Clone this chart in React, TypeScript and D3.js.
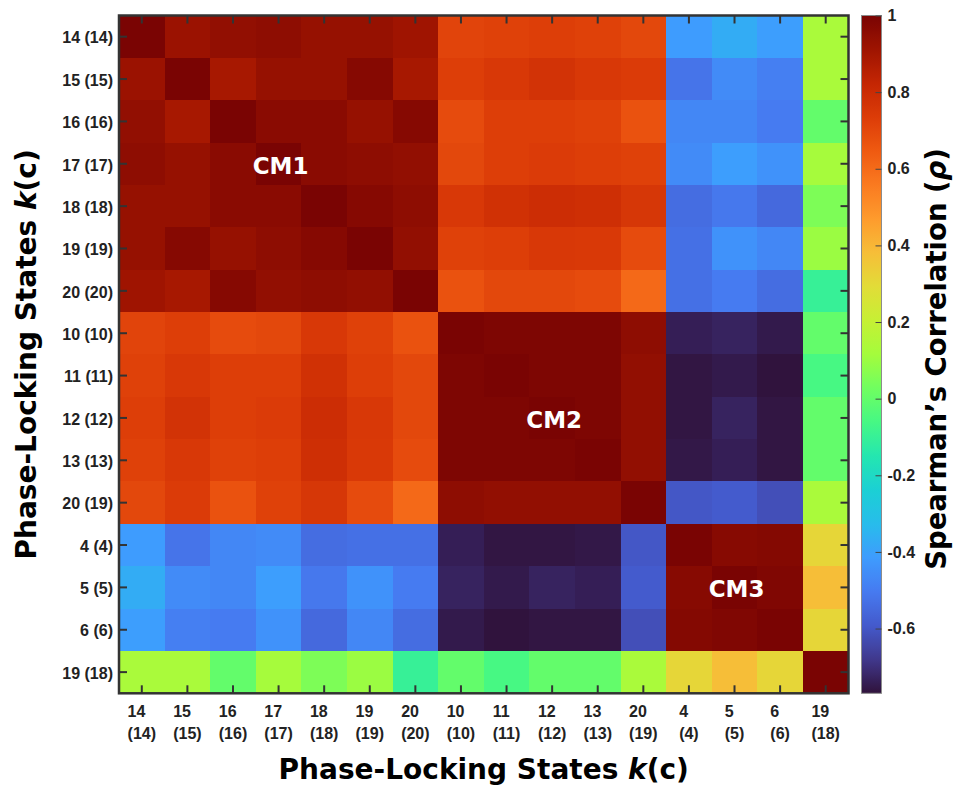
import React, { useEffect, useRef } from 'react';
import * as d3 from 'd3';

// phase-locking states k(c), same order on both axes
const states = ['14 (14)', '15 (15)', '16 (16)', '17 (17)', '18 (18)', '19 (19)', '20 (20)', '10 (10)', '11 (11)', '12 (12)', '13 (13)', '20 (19)', '4 (4)', '5 (5)', '6 (6)', '19 (18)'];

// Spearman's rho, one row per state
const rho14_14 = [1.0, 0.92, 0.94, 0.95, 0.93, 0.93, 0.91, 0.71, 0.72, 0.73, 0.72, 0.7, -0.415, -0.37, -0.41, 0.13];
const rho15_15 = [0.92, 1.0, 0.89, 0.93, 0.93, 0.97, 0.89, 0.73, 0.75, 0.77, 0.75, 0.74, -0.52, -0.46, -0.49, 0.13];
const rho16_16 = [0.94, 0.89, 1.0, 0.96, 0.96, 0.93, 0.97, 0.69, 0.73, 0.73, 0.72, 0.67, -0.47, -0.47, -0.5, 0.0];
const rho17_17 = [0.95, 0.93, 0.96, 1.0, 0.96, 0.95, 0.94, 0.7, 0.73, 0.74, 0.73, 0.72, -0.46, -0.41, -0.44, 0.12];
const rho18_18 = [0.93, 0.93, 0.96, 0.96, 1.0, 0.97, 0.95, 0.75, 0.78, 0.795, 0.785, 0.755, -0.54, -0.51, -0.55, 0.05];
const rho19_19 = [0.93, 0.97, 0.93, 0.95, 0.97, 1.0, 0.94, 0.72, 0.73, 0.75, 0.745, 0.69, -0.53, -0.44, -0.47, 0.1];
const rho20_20 = [0.91, 0.89, 0.97, 0.94, 0.95, 0.94, 1.0, 0.67, 0.7, 0.7, 0.69, 0.605, -0.53, -0.5, -0.54, -0.1];
const rho10_10 = [0.71, 0.73, 0.69, 0.7, 0.75, 0.72, 0.67, 1.0, 0.99, 0.99, 0.99, 0.95, -0.74, -0.73, -0.75, 0.0];
const rho11_11 = [0.72, 0.75, 0.73, 0.73, 0.78, 0.73, 0.7, 0.99, 1.0, 0.99, 0.99, 0.94, -0.76, -0.75, -0.767, -0.06];
const rho12_12 = [0.73, 0.77, 0.73, 0.74, 0.795, 0.75, 0.7, 0.99, 0.99, 1.0, 0.99, 0.94, -0.76, -0.73, -0.76, 0.0];
const rho13_13 = [0.72, 0.75, 0.72, 0.73, 0.785, 0.745, 0.69, 0.99, 0.99, 0.99, 1.0, 0.94, -0.755, -0.74, -0.76, 0.0];
const rho20_19 = [0.7, 0.74, 0.67, 0.72, 0.755, 0.69, 0.605, 0.95, 0.94, 0.94, 0.94, 1.0, -0.6, -0.59, -0.62, 0.13];
const rho4_4 = [-0.415, -0.52, -0.47, -0.46, -0.54, -0.53, -0.53, -0.74, -0.76, -0.76, -0.755, -0.6, 1.0, 0.968, 0.975, 0.31];
const rho5_5 = [-0.37, -0.46, -0.47, -0.41, -0.51, -0.44, -0.5, -0.73, -0.75, -0.73, -0.74, -0.59, 0.968, 1.0, 0.985, 0.38];
const rho6_6 = [-0.41, -0.49, -0.5, -0.44, -0.55, -0.47, -0.54, -0.75, -0.767, -0.76, -0.76, -0.62, 0.975, 0.985, 1.0, 0.31];
const rho19_18 = [0.13, 0.13, 0.0, 0.12, 0.05, 0.1, -0.1, 0.0, -0.06, 0.0, 0.0, 0.13, 0.31, 0.38, 0.31, 1.0];

const rho = [rho14_14, rho15_15, rho16_16, rho17_17, rho18_18, rho19_19, rho20_20, rho10_10, rho11_11, rho12_12, rho13_13, rho20_19, rho4_4, rho5_5, rho6_6, rho19_18];

// cluster blocks on the diagonal
const clusterNames = ['CM1', 'CM2', 'CM3'];
const clusterFirst = [0, 7, 12];
const clusterLast = [6, 11, 14];

const cbarTicks = [1, 0.8, 0.6, 0.4, 0.2, 0, -0.2, -0.4, -0.6];
const rhoMin = -0.769;
const rhoMax = 1;

// turbo colormap, sampled every 0.05
const turboStops = ['#30123b', '#40388c', '#445acc', '#467af0', '#3e9cfe', '#28bceb', '#1bd0d4', '#24e6b0', '#46f884', '#70fe60', '#a4fc3c', '#c6f034', '#e2dc38', '#f6be38', '#fe9b2d', '#fa7a20', '#ef5a11', '#dc3c08', '#c42603', '#9e1401', '#7a0403'];

const titleFont = "'DejaVu Sans', Verdana, sans-serif";
const tickFont = "'Liberation Sans', Arial, Helvetica, sans-serif";

export default function App() {
  const svgRef = useRef(null);

  useEffect(() => {
    const width = 954;
    const height = 787;
    const plot = { left: 119, right: 848.5, top: 15.5, bottom: 693.3 };
    const cbar = { left: 861.5, right: 881.5 };

    const svg = d3.select(svgRef.current);
    svg.selectAll('*').remove();
    svg.attr('width', width).attr('height', height);

    const idx = d3.range(states.length);
    const x = d3.scaleBand().domain(idx).range([plot.left, plot.right]);
    const y = d3.scaleBand().domain(idx).range([plot.top, plot.bottom]);
    const color = d3.scaleSequential(d3.piecewise(d3.interpolateRgb, turboStops)).domain([rhoMin, rhoMax]);

    // cells
    const cells = rho.flatMap((row, i) => row.map((v, j) => ({ i, j, v })));
    svg
      .append('g')
      .attr('shape-rendering', 'crispEdges')
      .selectAll('rect')
      .data(cells)
      .join('rect')
      .attr('x', (d) => x(d.j))
      .attr('y', (d) => y(d.i))
      .attr('width', x.bandwidth() + 0.6)
      .attr('height', y.bandwidth() + 0.6)
      .attr('fill', (d) => color(d.v));

    // cluster names
    svg
      .append('g')
      .selectAll('text')
      .data(clusterNames)
      .join('text')
      .attr('x', (d, k) => (x(clusterFirst[k]) + x(clusterLast[k]) + x.bandwidth()) / 2 + 2)
      .attr('y', (d, k) => (y(clusterFirst[k]) + y(clusterLast[k]) + y.bandwidth()) / 2)
      .attr('dy', '0.43em')
      .attr('text-anchor', 'middle')
      .attr('fill', '#fff')
      .style('font-family', titleFont)
      .style('font-weight', 'bold')
      .style('font-size', '23px')
      .text((d) => d);

    // inward ticks on all four sides
    const styleAxis = (g) => {
      g.select('.domain').remove();
      g.selectAll('.tick line').attr('stroke', '#333').attr('stroke-width', 2);
    };
    svg.append('g').attr('transform', `translate(0,${plot.top})`)
      .call(d3.axisTop(x).tickSize(-8).tickFormat(() => '')).call(styleAxis);
    svg.append('g').attr('transform', `translate(0,${plot.bottom})`)
      .call(d3.axisBottom(x).tickSize(-8).tickFormat(() => '')).call(styleAxis);
    svg.append('g').attr('transform', `translate(${plot.right},0)`)
      .call(d3.axisRight(y).tickSize(-8).tickFormat(() => '')).call(styleAxis);

    const left = svg.append('g').attr('transform', `translate(${plot.left},0)`)
      .call(d3.axisLeft(y).tickSize(-8).tickPadding(6).tickFormat((i) => states[i]))
      .call(styleAxis);
    left.selectAll('text')
      .attr('dy', '0.42em')
      .attr('fill', '#222')
      .style('font-family', tickFont)
      .style('font-weight', 'bold')
      .style('font-size', '16px');

    // bottom labels: two lines, left aligned, block centred on the tick
    const xl = svg.append('g')
      .style('font-family', tickFont)
      .style('font-weight', 'bold')
      .style('font-size', '16px')
      .attr('fill', '#222');
    idx.forEach((i) => {
      const [top, bottom] = states[i].split(' ');
      const cx = x(i) + x.bandwidth() / 2;
      xl.append('text').attr('x', cx).attr('y', 717).attr('dx', '-0.333em').attr('text-anchor', 'middle').text(top);
      xl.append('text').attr('x', cx).attr('y', 738.5).attr('text-anchor', 'middle').text(bottom);
    });

    // frame
    svg.append('rect')
      .attr('x', plot.left).attr('y', plot.top)
      .attr('width', plot.right - plot.left).attr('height', plot.bottom - plot.top)
      .attr('fill', 'none').attr('stroke', '#333').attr('stroke-width', 2.5);

    // colour bar
    const cb = d3.scaleLinear().domain([rhoMin, rhoMax]).range([plot.bottom, plot.top]);
    const grad = svg.append('defs').append('linearGradient')
      .attr('id', 'cbar-grad').attr('x1', 0).attr('y1', 1).attr('x2', 0).attr('y2', 0);
    d3.range(0, 1.0001, 0.01).forEach((t) => {
      grad.append('stop').attr('offset', t).attr('stop-color', color(rhoMin + t * (rhoMax - rhoMin)));
    });
    svg.append('rect')
      .attr('x', cbar.left).attr('y', plot.top)
      .attr('width', cbar.right - cbar.left).attr('height', plot.bottom - plot.top)
      .attr('fill', 'url(#cbar-grad)').attr('stroke', '#8c8c8c').attr('stroke-width', 1);

    const cbAxis = svg.append('g').attr('transform', `translate(${cbar.right},0)`)
      .call(d3.axisRight(cb).tickValues(cbarTicks).tickSize(-6).tickPadding(6).tickFormat((d) => String(d)));
    cbAxis.select('.domain').remove();
    cbAxis.selectAll('.tick line').attr('stroke', '#444').attr('stroke-width', 1);
    cbAxis.selectAll('text')
      .attr('fill', '#222')
      .style('font-family', tickFont)
      .style('font-weight', 'bold')
      .style('font-size', '16px');

    // titles
    const title = (g, parts) => {
      parts.forEach(([s, italic]) => {
        g.append('tspan').style('font-style', italic ? 'italic' : 'normal').text(s);
      });
    };
    const titleParts = [['Phase-Locking States ', false], ['k', true], ['(c)', false]];

    const xt = svg.append('text')
      .attr('x', (plot.left + plot.right) / 2).attr('y', 779)
      .attr('text-anchor', 'middle')
      .style('font-family', titleFont).style('font-weight', 'bold').style('font-size', '28px');
    title(xt, titleParts);

    const yt = svg.append('text')
      .attr('transform', `translate(36,${(plot.top + plot.bottom) / 2}) rotate(-90)`)
      .attr('text-anchor', 'middle')
      .style('font-family', titleFont).style('font-weight', 'bold').style('font-size', '28px');
    title(yt, titleParts);

    const ct = svg.append('text')
      .attr('transform', `translate(946,359) rotate(-90)`)
      .attr('text-anchor', 'middle')
      .style('font-family', titleFont).style('font-weight', 'bold').style('font-size', '27.5px');
    title(ct, [['Spearman\u2019s Correlation (', false], ['\u03c1', true], [')', false]]);
  }, []);

  return <svg ref={svgRef} style={{ position: 'absolute', left: 0, top: 0, background: '#fff' }}></svg>;
}
